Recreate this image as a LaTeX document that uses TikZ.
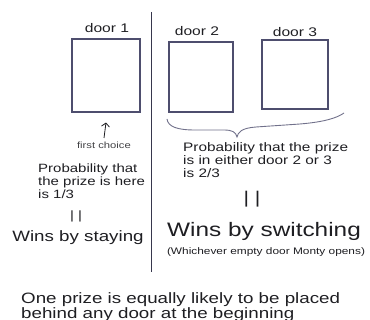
\documentclass[tikz,border=0pt]{standalone}
\usepackage{fontspec}
\setmainfont{Liberation Sans}[FakeStretch=1.25]
\usetikzlibrary{arrows.meta}
\definecolor{ink}{HTML}{1E1E22}
\definecolor{edge}{HTML}{4E4E6E}
\newcommand{\fsz}[2]{\fontsize{#1}{#2}\selectfont}
\begin{document}
\begin{tikzpicture}[x=1pt,y=-1pt,
  txt/.style={inner sep=0pt, text=ink},
  door/.style={draw=edge, line width=1.1pt, inner sep=0pt},
  pointer/.style={draw=ink, line width=0.8pt, -{Straight Barb[length=3.5pt,width=8pt]}},
  divider/.style={draw=edge!70!black, line width=1pt},
  brace/.style={draw=edge!80, line width=0.9pt}]
\useasboundingbox (0,0) rectangle (370,320);
% divider
\coordinate (dtop) at (151,12);
\coordinate (dbot) at (151,272);
\draw[divider] (dtop) -- (dbot);
% doors
\node[door, minimum width=68pt, minimum height=73pt] (b1) at (106,75.5) {};
\node[door, minimum width=64pt, minimum height=70pt] (b2) at (201,77) {};
\node[door, minimum width=66pt, minimum height=69pt] (b3) at (295,74.5) {};
\node[txt, font=\fsz{12.5}{15}] (l1) at (107,28) {door 1};
\node[txt, font=\fsz{12.5}{15}] (l2) at (197,31) {door 2};
\node[txt, font=\fsz{12.5}{15}] (l3) at (295,32) {door 3};
% first choice
\node[txt, font=\fsz{9}{11}, text=ink!85] (fc) at (104,145) {first choice};
\draw[pointer] ([yshift=3.5pt]fc.north) -- ([yshift=-10pt]b1.south);
% left probability
\node[txt, font=\fsz{12}{13}, align=left, anchor=north west] (pl) at (38,163.5)
  {Probability that\\the prize is here\\is 1/3};
\node[txt, font=\fsz{12}{14}] (eql) at (76,216) {| |};
\node[txt, font=\fsz{15}{18}, anchor=base] (stay) at (78,242) {Wins by staying};
% brace
\coordinate (brL) at (167,119);
\coordinate (brT) at (237,137);
\coordinate (brR) at (344,113);
\draw[brace] (brL) .. controls (168,127) and (178,130) .. (195,130)
  -- (224,130) .. controls (232,130) and (236,132) .. (brT)
  .. controls (238,132) and (242,128) .. (256,127)
  -- (300,124) .. controls (324,122) and (337,118) .. (brR);
% right probability
\node[txt, font=\fsz{12.3}{13}, align=left, anchor=north west] (pr) at (183,142.5)
  {Probability that the prize\\is in either door 2 or 3\\is 2/3};
\node[txt, font=\fsz{17}{20}] (eqr) at (252,199) {| |};
\node[txt, font=\fsz{19.5}{22}, anchor=base] (switch) at (264,237) {Wins by switching};
\node[txt, font=\fsz{9.5}{11}] (monty) at (266,252) {(Whichever empty door Monty opens)};
% bottom
\node[txt, font=\fsz{15}{13}, align=left, anchor=north west] (bottom) at (21,292)
  {One prize is equally likely to be placed\\behind any door at the beginning};
\end{tikzpicture}
\end{document}
